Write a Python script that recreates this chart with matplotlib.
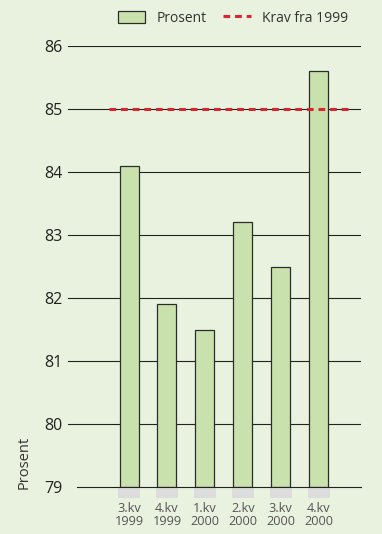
import numpy as np
import matplotlib.pyplot as plt
from matplotlib.patches import Rectangle
from matplotlib.lines import Line2D

# quarterly share (%) and the requirement line
quarters = ['3.kv\n1999', '4.kv\n1999', '1.kv\n2000', '2.kv\n2000', '3.kv\n2000', '4.kv\n2000']
prosent = [84.1, 81.9, 81.5, 83.2, 82.5, 85.6]
krav = 85.0
yticks = [79, 80, 81, 82, 83, 84, 85, 86]

plt.rcParams['font.family'] = ['Open Sans', 'DejaVu Sans']

bg = '#e9f2df'
W, H = 382, 534
fig = plt.figure(figsize=(W / 100, H / 100), dpi=100, facecolor=bg)

# plot area in pixels: left 68, right 361, top 46 (86), bottom 487 (79)
ax = fig.add_axes([68 / W, 1 - 487 / H, (361 - 68) / W, (487 - 46) / H])
ax.set_facecolor(bg)
for s in ax.spines.values():
    s.set_visible(False)

x = np.arange(len(prosent))
x0, x1 = -1.61, 6.12
ax.set_xlim(x0, x1)
ax.set_ylim(79, 86)

# grid lines behind the bars
for y in yticks[1:]:
    ax.plot([x0, x1], [y, y], color='#222222', lw=0.8, zorder=1)
ax.plot([x0 + 9 / 37.9, x1], [79, 79], color='#222222', lw=0.8, zorder=4, clip_on=False)

ax.bar(x, np.array(prosent) - 79, bottom=79, width=0.5, color='#c9e2ad',
       edgecolor='#2b2b2b', linewidth=0.9, zorder=3)

# gray tabs under each category
for xi in x:
    ax.add_patch(Rectangle((xi - 0.29, 79 - 11 / 63), 0.58, 11 / 63, facecolor='#dcdcdc',
                           edgecolor='none', clip_on=False, zorder=2))

ax.plot([x0 + 41 / 37.9, x0 + 282 / 37.9], [krav, krav], color='#d7262e', lw=2.2,
        dashes=(2.2, 1.6), zorder=5)

ax.set_yticks(yticks)
ax.set_yticklabels([str(v) for v in yticks], fontsize=11.5, color='#222222')
ax.tick_params(axis='y', length=0, pad=4)
ax.set_xticks(x)
ax.set_xticklabels(quarters, fontsize=9.2, color='#555555', linespacing=1.0)
ax.tick_params(axis='x', length=0, pad=11)

fig.text(24 / W, 1 - 462 / H, 'Prosent', rotation=90, fontsize=10.5, color='#333333',
         ha='center', va='center')

handles = [Rectangle((0, 0), 1, 1, facecolor='#c9e2ad', edgecolor='#2b2b2b', lw=0.9),
           Line2D([], [], color='#d7262e', lw=2.2, dashes=(2.2, 1.6))]
fig.legend(handles, ['Prosent', 'Krav fra 1999'], loc='center', ncol=2,
           bbox_to_anchor=(233 / W, 1 - 18 / H), frameon=False, fontsize=10,
           handlelength=2.0, handleheight=0.95, handletextpad=0.8, columnspacing=1.2,
           labelcolor='#333333')

fig.savefig('out.png', dpi=100, facecolor=bg)
